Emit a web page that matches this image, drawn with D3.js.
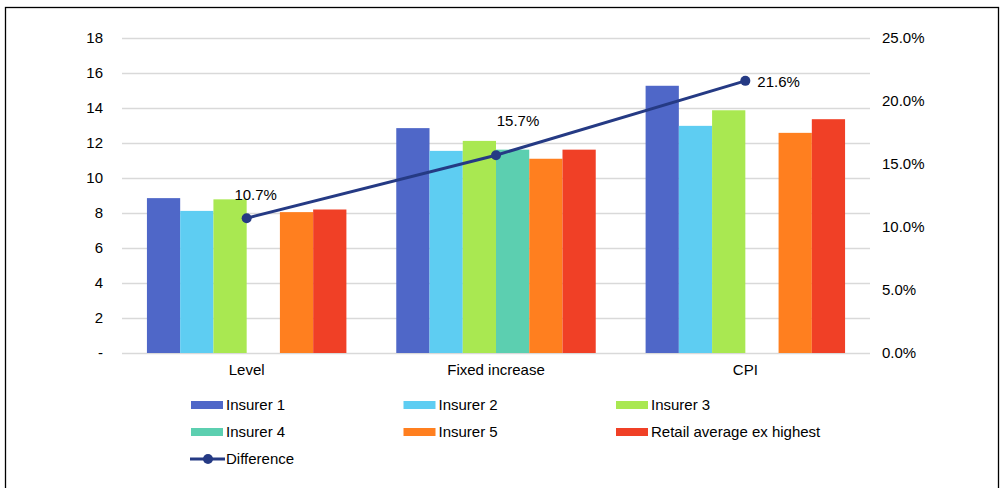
<!DOCTYPE html>
<html>
<head>
<meta charset="utf-8">
<script src="https://cdn.jsdelivr.net/npm/d3@7"></script>
<style>
  body { margin: 0; background: #fff; }
  svg { display: block; font-family: "Liberation Sans", Arial, sans-serif; }
</style>
</head>
<body>
<svg id="chart"></svg>
<script>
// categories and series
var categories = ["Level", "Fixed increase", "CPI"];
var seriesNames = ["Insurer 1", "Insurer 2", "Insurer 3", "Insurer 4", "Insurer 5", "Retail average ex highest"];
var insurer1 = [8.85, 12.85, 15.27];
var insurer2 = [8.12, 11.55, 12.98];
var insurer3 = [8.78, 12.12, 13.87];
var insurer4 = [null, 11.62, null];
var insurer5 = [8.05, 11.1, 12.58];
var retail = [8.2, 11.62, 13.36];
var difference = [10.7, 15.7, 21.6];
var leftTicks = [0, 2, 4, 6, 8, 10, 12, 14, 16, 18];
var rightTicks = [0, 5, 10, 15, 20, 25];

var colors = ["#4f67c8", "#5ecdf2", "#a9e851", "#5ccfb0", "#ff7f1f", "#f04026"];
var lineColor = "#253a84";
var fontSize = 15;

var svgWidth = 1002, svgHeight = 488;
var margin = { top: 38, left: 122, right: 132, bottom: 135 };
var width = svgWidth - margin.left - margin.right;
var height = svgHeight - margin.top - margin.bottom;

var svg = d3.select("#chart")
    .attr("width", svgWidth)
    .attr("height", svgHeight);

// outer frame
svg.append("rect")
    .attr("x", 5.5).attr("y", 7.5)
    .attr("width", 993).attr("height", 490)
    .attr("fill", "none")
    .attr("stroke", "#000")
    .attr("stroke-width", 1.3);

var g = svg.append("g")
    .attr("transform", "translate(" + margin.left + "," + margin.top + ")");

// scales
var x0 = d3.scaleBand().domain(categories).range([0, width]).paddingInner(0.2).paddingOuter(0.1);
var x1 = d3.scaleBand().domain(seriesNames).range([0, x0.bandwidth()]);
var y = d3.scaleLinear().domain([0, 18]).range([height, 0]);
var y2 = d3.scaleLinear().domain([0, 25]).range([height, 0]);

// gridlines
g.append("g")
    .selectAll("line")
    .data(leftTicks)
    .join("line")
    .attr("x1", 0).attr("x2", width)
    .attr("y1", function (d) { return y(d) + 0.5; })
    .attr("y2", function (d) { return y(d) + 0.5; })
    .attr("stroke", "#d9d9d9")
    .attr("stroke-width", 1.3);

// left axis
var yAxis = g.append("g")
    .attr("transform", "translate(-16,0)")
    .call(d3.axisLeft(y).tickValues(leftTicks).tickSize(0)
        .tickFormat(function (d) { return d === 0 ? "-" : d; }));
yAxis.select(".domain").remove();
yAxis.selectAll("text").attr("font-size", fontSize).attr("fill", "#000").attr("font-family", "Liberation Sans, Arial, sans-serif");

// right axis
var y2Axis = g.append("g")
    .attr("transform", "translate(" + (width + 9) + ",0)")
    .call(d3.axisRight(y2).tickValues(rightTicks).tickSize(0)
        .tickFormat(function (d) { return d.toFixed(1) + "%"; }));
y2Axis.select(".domain").remove();
y2Axis.selectAll("text").attr("font-size", fontSize).attr("fill", "#000").attr("font-family", "Liberation Sans, Arial, sans-serif");

// bottom category labels
var xAxis = g.append("g")
    .attr("transform", "translate(0," + height + ")")
    .call(d3.axisBottom(x0).tickSize(0).tickPadding(11));
xAxis.select(".domain").remove();
xAxis.selectAll("text").attr("font-size", fontSize).attr("fill", "#000").attr("font-family", "Liberation Sans, Arial, sans-serif");

// bars
var seriesData = [insurer1, insurer2, insurer3, insurer4, insurer5, retail];
var groups = g.append("g")
    .selectAll("g")
    .data(categories)
    .join("g")
    .attr("transform", function (d) { return "translate(" + x0(d) + ",0)"; });

groups.selectAll("rect")
    .data(function (c, i) {
        return seriesNames.map(function (s, j) { return { name: s, value: seriesData[j][i], color: colors[j] }; })
            .filter(function (d) { return d.value != null; });
    })
    .join("rect")
    .attr("x", function (d) { return x1(d.name); })
    .attr("y", function (d) { return y(d.value); })
    .attr("width", x1.bandwidth())
    .attr("height", function (d) { return height - y(d.value); })
    .attr("fill", function (d) { return d.color; });

// difference line
var line = d3.line()
    .x(function (d, i) { return x0(categories[i]) + x0.bandwidth() / 2; })
    .y(function (d) { return y2(d); });

g.append("path")
    .datum(difference)
    .attr("fill", "none")
    .attr("stroke", lineColor)
    .attr("stroke-width", 3)
    .attr("d", line);

g.selectAll(".dot")
    .data(difference)
    .join("circle")
    .attr("class", "dot")
    .attr("cx", function (d, i) { return x0(categories[i]) + x0.bandwidth() / 2; })
    .attr("cy", function (d) { return y2(d); })
    .attr("r", 5)
    .attr("fill", lineColor);

// data labels
var labelOffsets = [[9, -18], [22, -29], [12, 6]];
var labelAnchor = ["middle", "middle", "start"];
g.selectAll(".lbl")
    .data(difference)
    .join("text")
    .attr("class", "lbl")
    .attr("x", function (d, i) { return x0(categories[i]) + x0.bandwidth() / 2 + labelOffsets[i][0]; })
    .attr("y", function (d, i) { return y2(d) + labelOffsets[i][1]; })
    .attr("text-anchor", function (d, i) { return labelAnchor[i]; })
    .attr("font-size", fontSize)
    .attr("fill", "#000")
    .text(function (d) { return d.toFixed(1) + "%"; });

// legend
var legendItems = seriesNames.map(function (s, i) { return { name: s, color: colors[i], type: "bar" }; });
legendItems.push({ name: "Difference", color: lineColor, type: "line" });

var legend = svg.append("g")
    .selectAll("g")
    .data(legendItems)
    .join("g")
    .attr("transform", function (d, i) {
        return "translate(" + (190 + (i % 3) * 212.5) + "," + (405 + Math.floor(i / 3) * 27) + ")";
    });

legend.filter(function (d) { return d.type === "bar"; })
    .append("rect")
    .attr("x", 1).attr("y", -4)
    .attr("width", 32).attr("height", 8)
    .attr("fill", function (d) { return d.color; });

var lineItem = legend.filter(function (d) { return d.type === "line"; });
lineItem.append("line")
    .attr("x1", 0).attr("x2", 35).attr("y1", 0).attr("y2", 0)
    .attr("stroke", lineColor).attr("stroke-width", 3);
lineItem.append("circle")
    .attr("cx", 18).attr("cy", 0).attr("r", 5)
    .attr("fill", lineColor);

legend.append("text")
    .attr("x", 36)
    .attr("y", 5)
    .attr("font-size", fontSize)
    .attr("fill", "#000")
    .text(function (d) { return d.name; });
</script>
</body>
</html>
